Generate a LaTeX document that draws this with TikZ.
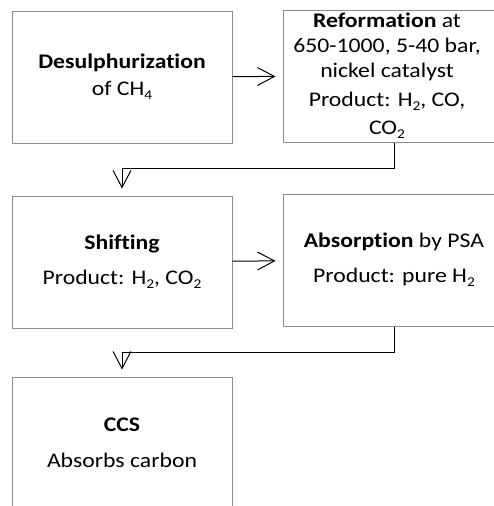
\documentclass[tikz,border=0pt]{standalone}
\usepackage{fontspec}
\setmainfont{Carlito}[Ligatures=NoCommon, FakeStretch=1.14]
\usetikzlibrary{arrows.meta}

% Word-style subscript
\newcommand{\lowsub}[1]{\raisebox{-4pt}{\fontsize{13.5}{13.5}\selectfont #1}}

\begin{document}
\begin{tikzpicture}[
  x=1pt, y=-1pt,
  font=\fontsize{20.8}{25}\selectfont,
  box/.style={rectangle, draw=gray!90, line width=1pt, minimum width=220pt, minimum height=132pt, align=center, inner sep=0pt},
  widebox/.style={box, minimum width=222pt},
  txt/.style={align=center, inner sep=3pt},
  flow/.style={-{Straight Barb[length=17pt, width=18pt]}, line width=1pt, shorten >=7pt}
]
\useasboundingbox (0,0) rectangle (494,506);

%======================
% TOP ROW
%======================

% nodes
\node[box] (desulph) at (122,77) {\textbf{Desulphurization}\\[2pt] of CH\lowsub{4}};
\node[widebox] (reform) at (394,76) {};
\node[txt, anchor=north] (reformtxt) at (387,10) {\textbf{Reformation} at\\ 650-1000, 5-40 bar,\\ nickel catalyst\\[4pt] Product: H\lowsub{2}, CO,\\[3pt] CO\lowsub{2}};

%======================
% MIDDLE ROW
%======================

\node[box] (shift) at (122,262) {\textbf{Shifting}\\[10pt] Product: H\lowsub{2}, CO\lowsub{2}};
\node[widebox] (absorb) at (394,260) {\textbf{Absorption} by PSA\\[10pt] Product: pure H\lowsub{2}};

%======================
% BOTTOM ROW
%======================

\node[box] (ccs) at (122,443) {\textbf{CCS}\\[11pt] Absorbs carbon};

% connectors
\draw[flow] (desulph) -- (reform);
\draw[flow] (reform.south) -- ++(0,26) -| (shift.north);
\draw[flow] (shift) -- (absorb);
\draw[flow] (absorb.south) -- ++(0,26) -| (ccs.north);

\end{tikzpicture}
\end{document}
